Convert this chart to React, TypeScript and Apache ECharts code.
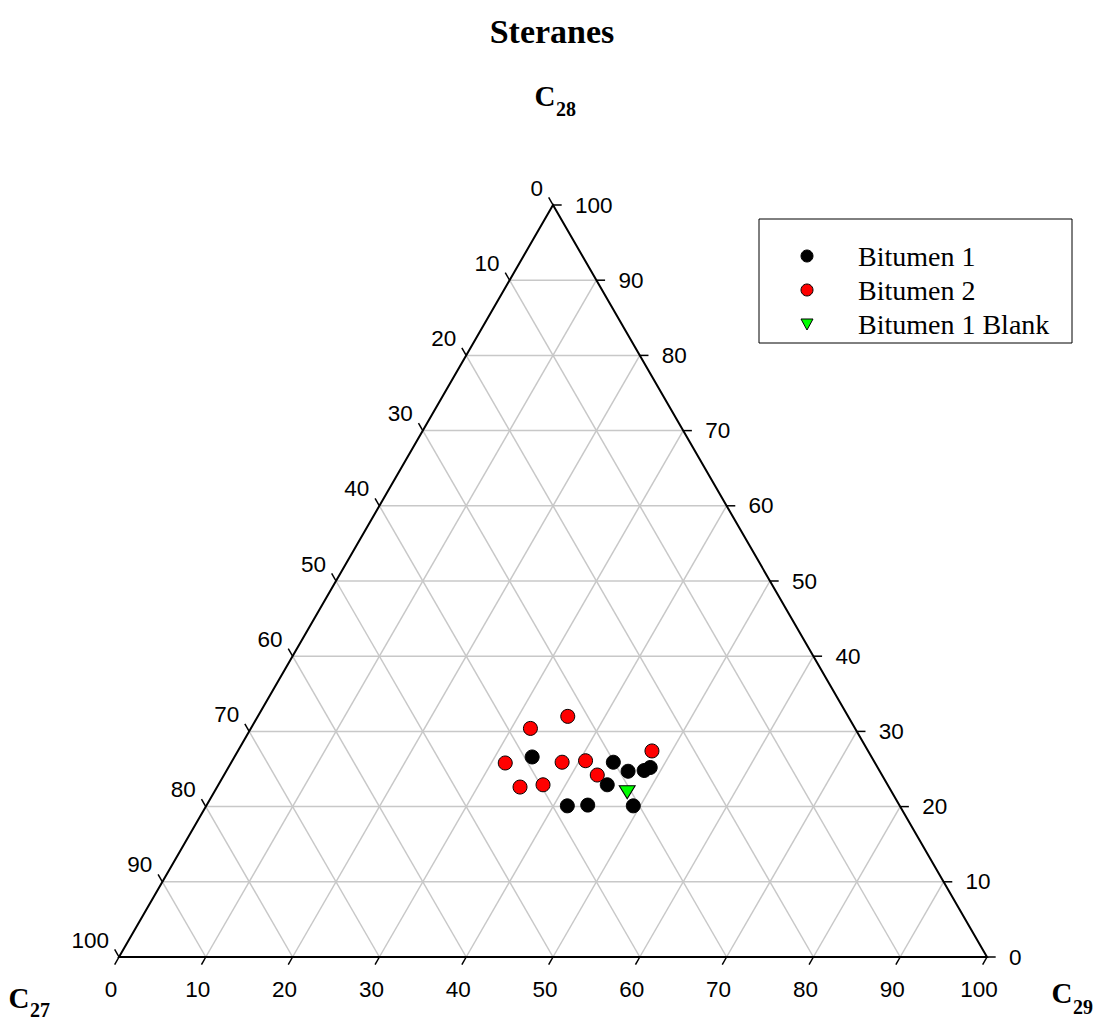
import React, { useEffect, useRef } from "react";
import * as echarts from "echarts";

// Ternary data: C27 / C28 / C29 (%)
const bitumen1C28 = [26.6, 25.9, 24.7, 24.8, 25.2, 22.9, 20.1, 20.2, 20.1];
const bitumen1C29 = [34.3, 44.0, 46.3, 48.1, 48.6, 44.8, 41.6, 43.9, 49.2];
const bitumen2C28 = [32.0, 30.4, 25.8, 25.9, 26.1, 27.4, 24.2, 22.6, 22.9];
const bitumen2C29 = [35.7, 32.2, 31.6, 38.1, 40.7, 47.7, 43.0, 34.9, 37.4];
const blankC28 = [21.9];
const blankC29 = [47.6];

const tickValues = [0, 10, 20, 30, 40, 50, 60, 70, 80, 90, 100];
const gridValues = [10, 20, 30, 40, 50, 60, 70, 80, 90];
const seriesNames = ["Bitumen 1", "Bitumen 2", "Bitumen 1 Blank"];

// ternary (C28, C29) -> cartesian helper (x along base, y = C28)
const toXY = (c28: number, c29: number) => [c29 + c28 / 2, c28];
const buildPoints = (c28: number[], c29: number[]) =>
  c28.map((v, i) => {
    const c27 = 100 - v - c29[i];
    return { value: toXY(v, c29[i]), c27, c28: v, c29: c29[i] };
  });

const SANS = "Liberation Sans, Arial, sans-serif";
const SERIF = "Liberation Serif, Times New Roman, serif";

export default function App() {
  const ref = useRef<HTMLDivElement>(null);

  useEffect(() => {
    if (!ref.current) return;
    const chart = echarts.init(ref.current, null, { renderer: "svg" });

    const renderFrame = (params: any, api: any) => {
      const P = (c28: number, c29: number) => api.coord(toXY(c28, c29));
      const children: any[] = [];
      const gridStyle = { stroke: "#c8c8c8", lineWidth: 1.5 };
      const line = (a: number[], b: number[], style: any) => ({
        type: "line",
        shape: { x1: a[0], y1: a[1], x2: b[0], y2: b[1] },
        style,
      });
      gridValues.forEach((v) => {
        children.push(line(P(v, 0), P(v, 100 - v), gridStyle));
        children.push(line(P(0, v), P(100 - v, v), gridStyle));
        children.push(line(P(0, 100 - v), P(100 - v, 0), gridStyle));
      });
      children.push({
        type: "polygon",
        shape: { points: [P(0, 0), P(100, 0), P(0, 100)] },
        style: { fill: "none", stroke: "#000", lineWidth: 2 },
      });
      const tickStyle = { stroke: "#000", lineWidth: 1.5 };
      const labelStyle = (text: string, x: number, y: number, align: string) => ({
        type: "text",
        style: {
          text,
          x,
          y,
          align,
          verticalAlign: "middle",
          fill: "#000",
          fontSize: 22.5,
          fontFamily: SANS,
        },
      });
      tickValues.forEach((v) => {
        // bottom axis: C29
        const pb = P(0, v);
        children.push(line(pb, P(-1, v), tickStyle));
        children.push(labelStyle(String(v), pb[0] - 8, pb[1] + 32, "center"));
        // right axis: C28
        const pr = P(v, 100 - v);
        children.push(line(pr, P(v, 101 - v), tickStyle));
        children.push(labelStyle(String(v), pr[0] + 22, pr[1], "left"));
        // left axis: C27
        const pl = P(100 - v, 0);
        children.push(line(pl, P(101 - v, -1), tickStyle));
        children.push(labelStyle(String(v), pl[0] - 10, pl[1] - 17, "right"));
      });
      return { type: "group", children };
    };

    const textEl = (text: string, x: number, y: number, size: number, align = "center") => ({
      type: "text",
      x,
      y,
      style: {
        text,
        align,
        verticalAlign: "middle",
        fill: "#000",
        fontSize: size,
        fontWeight: "bold",
        fontFamily: SERIF,
      },
    });

    const legendRows = [256, 290, 324];
    const legendText = (text: string, y: number) => ({
      type: "text",
      x: 858,
      y,
      style: {
        text,
        align: "left",
        verticalAlign: "middle",
        fill: "#000",
        fontSize: 28,
        fontFamily: SERIF,
      },
    });

    chart.setOption({
      animation: false,
      backgroundColor: "#fff",
      grid: { left: 119, top: 205, width: 868, height: 752, containLabel: false },
      xAxis: { type: "value", min: 0, max: 100, show: false },
      yAxis: { type: "value", min: 0, max: 100, show: false },
      graphic: [
        textEl("Steranes", 552, 31, 34),
        textEl("C", 545, 96, 29),
        textEl("28", 556, 109, 20, "left"),
        textEl("C", 19, 998, 29),
        textEl("27", 30, 1010, 20, "left"),
        textEl("C", 1062, 993, 29),
        textEl("29", 1073, 1007, 20, "left"),
        {
          type: "rect",
          shape: { x: 759, y: 219, width: 313, height: 124 },
          style: { fill: "#fff", stroke: "#000", lineWidth: 1 },
        },
        {
          type: "circle",
          shape: { cx: 807, cy: legendRows[0], r: 6 },
          style: { fill: "#000", stroke: "#000", lineWidth: 1 },
        },
        {
          type: "circle",
          shape: { cx: 807, cy: legendRows[1], r: 6 },
          style: { fill: "#ff0000", stroke: "#000", lineWidth: 1 },
        },
        {
          type: "polygon",
          shape: {
            points: [
              [801, legendRows[2] - 5],
              [813, legendRows[2] - 5],
              [807, legendRows[2] + 6],
            ],
          },
          style: { fill: "#00ff00", stroke: "#000", lineWidth: 1 },
        },
        legendText(seriesNames[0], legendRows[0]),
        legendText(seriesNames[1], legendRows[1]),
        legendText(seriesNames[2], legendRows[2]),
      ],
      series: [
        {
          type: "custom",
          name: "frame",
          coordinateSystem: "cartesian2d",
          data: [[0, 0]],
          renderItem: renderFrame,
          silent: true,
          z: 1,
          clip: false,
        },
        {
          type: "scatter",
          name: seriesNames[0],
          data: buildPoints(bitumen1C28, bitumen1C29),
          symbol: "circle",
          symbolSize: 14,
          itemStyle: { color: "#000", borderColor: "#000", borderWidth: 1, opacity: 1 },
          z: 2,
        },
        {
          type: "scatter",
          name: seriesNames[1],
          data: buildPoints(bitumen2C28, bitumen2C29),
          symbol: "circle",
          symbolSize: 14,
          itemStyle: { color: "#ff0000", borderColor: "#000", borderWidth: 1, opacity: 1 },
          z: 2,
        },
        {
          type: "scatter",
          name: seriesNames[2],
          data: buildPoints(blankC28, blankC29),
          symbol: "triangle",
          symbolRotate: 180,
          symbolSize: [16, 13],
          itemStyle: { color: "#00ff00", borderColor: "#000", borderWidth: 1, opacity: 1 },
          z: 2,
        },
      ],
    });

    return () => chart.dispose();
  }, []);

  return (
    <div
      ref={ref}
      style={{ position: "absolute", left: 0, top: 0, width: 1094, height: 1022, background: "#fff" }}
    />
  );
}
